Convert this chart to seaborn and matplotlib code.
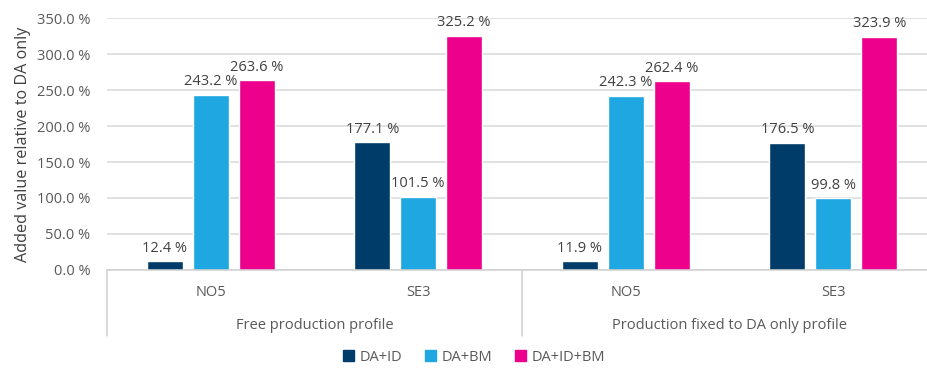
import matplotlib
matplotlib.use("Agg")
import matplotlib.pyplot as plt
from matplotlib.lines import Line2D
from matplotlib.ticker import FuncFormatter
import seaborn as sns
import pandas as pd

# Market combinations relative to trading on the day-ahead market only
profiles = ["Free production profile", "Production fixed to DA only profile"]
areas = ["NO5", "SE3"]
series = ["DA+ID", "DA+BM", "DA+ID+BM"]

# Added value (%) per profile/area, one list per series
da_id = [12.4, 177.1, 11.9, 176.5]
da_bm = [243.2, 101.5, 242.3, 99.8]
da_id_bm = [263.6, 325.2, 262.4, 323.9]

colors = ["#003C69", "#1FA7E1", "#EC008C"]
yticks = [0, 50, 100, 150, 200, 250, 300, 350]

slots = [f"{p}|{a}" for p in profiles for a in areas]
rows = []
for name, vals in zip(series, [da_id, da_bm, da_id_bm]):
    for slot, v in zip(slots, vals):
        rows.append({"slot": slot, "series": name, "value": v})
df = pd.DataFrame(rows)

sns.set_style("white")
plt.rcParams["font.family"] = ["Open Sans", "DejaVu Sans"]
text_color = "#595959"

fig = plt.figure(figsize=(9.28, 3.72), dpi=100)
ax = fig.add_axes([0.1153, 0.2742, 0.8944, 0.6774])

sns.barplot(data=df, x="slot", y="value", hue="series", order=slots,
            hue_order=series, palette=colors, width=0.665, gap=0.22,
            saturation=1, legend=False, ax=ax)

for cont in ax.containers:
    ax.bar_label(cont, labels=[f"{b.get_height():.1f} %" for b in cont],
                 padding=4, fontsize=10.5, color="#404040")

ax.set_xlim(-0.5, len(slots) - 0.5)
ax.set_ylim(0, 350)
ax.set_yticks(yticks)
ax.yaxis.set_major_formatter(FuncFormatter(lambda v, _: f"{v:.1f} %"))
ax.tick_params(axis="y", length=0, pad=12, labelsize=10.5, labelcolor=text_color)
ax.set_xticks([])
ax.set_xlabel("")
ax.set_ylabel("Added value relative to DA only", fontsize=11.6, color="#404040")
ax.yaxis.set_label_coords(-0.092, 0.5)
ax.yaxis.grid(True, color="#D9D9D9", linewidth=1.1)
ax.set_axisbelow(True)
for side in ["left", "right", "top"]:
    ax.spines[side].set_visible(False)
ax.spines["bottom"].set_color("#D0D0D0")
ax.spines["bottom"].set_linewidth(1.1)

# Two-level category axis: area names, then profile names with separators
trans = ax.get_xaxis_transform()
for i, slot in enumerate(slots):
    ax.text(i, -0.09, slot.split("|")[1], transform=trans, ha="center", va="center",
            fontsize=10.5, color=text_color)
for j, p in enumerate(profiles):
    ax.text(2 * j + 0.5, -0.22, p, transform=trans, ha="center", va="center",
            fontsize=10.5, color=text_color)
for xsep in [-0.5, 1.5, 3.5]:
    ax.add_line(Line2D([xsep, xsep], [0, -0.26], transform=trans, color="#D0D0D0",
                       linewidth=1.1, clip_on=False))

handles = [plt.Rectangle((0, 0), 1, 1, color=c) for c in colors]
fig.legend(handles, series, loc="center", bbox_to_anchor=(0.511, 0.04), ncol=3,
           frameon=False, fontsize=10.5, handlelength=0.7, handleheight=0.7,
           handletextpad=0.4, columnspacing=1.6, labelcolor=text_color)

fig.savefig("out.png", dpi=100)
